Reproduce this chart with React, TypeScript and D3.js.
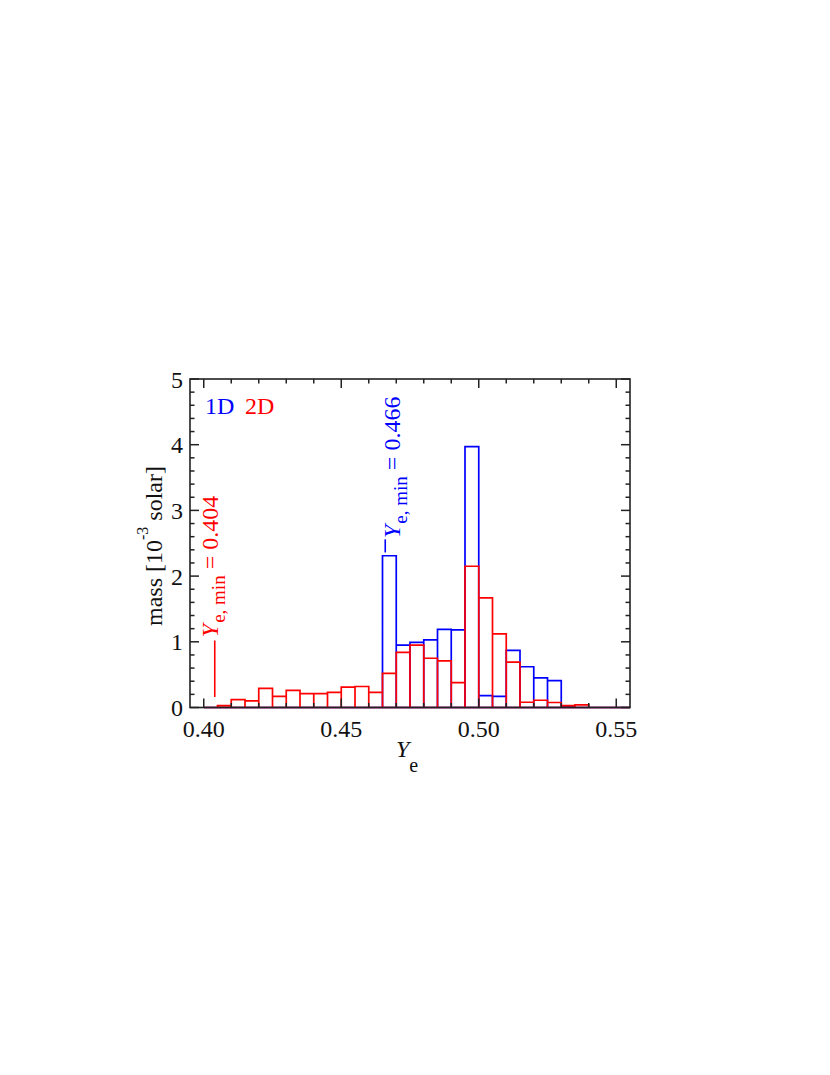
import React from "react";
import * as d3 from "d3";

// ---- data ----
const binStarts = [
  0.400, 0.405, 0.410, 0.415, 0.420, 0.425, 0.430, 0.435, 0.440, 0.445,
  0.450, 0.455, 0.460, 0.465, 0.470, 0.475, 0.480, 0.485, 0.490, 0.495,
  0.500, 0.505, 0.510, 0.515, 0.520, 0.525, 0.530, 0.535, 0.540, 0.545, 0.550,
];
const binWidth = 0.005;
const mass1D = [
  0, 0, 0, 0, 0, 0, 0, 0, 0, 0,
  0, 0, 0, 2.31, 0.95, 0.99, 1.03, 1.19, 1.18, 3.97,
  0.18, 0.17, 0.87, 0.62, 0.45, 0.41, 0.015, 0, 0, 0, 0,
];
const mass2D = [
  0, 0.03, 0.12, 0.10, 0.29, 0.17, 0.26, 0.21, 0.21, 0.23,
  0.31, 0.32, 0.23, 0.52, 0.84, 0.95, 0.75, 0.71, 0.38, 2.15,
  1.67, 1.12, 0.69, 0.08, 0.11, 0.076, 0.03, 0.04, 0, 0, 0,
];
const xMajorTicks = [0.40, 0.45, 0.50, 0.55];
const xTickLabels = ["0.40", "0.45", "0.50", "0.55"];
const xMinorTicks = [0.41, 0.42, 0.43, 0.44, 0.46, 0.47, 0.48, 0.49, 0.51, 0.52, 0.53, 0.54];
const yMajorTicks = [0, 1, 2, 3, 4, 5];
const yMinorTicks = [0.2, 0.4, 0.6, 0.8, 1.2, 1.4, 1.6, 1.8, 2.2, 2.4, 2.6, 2.8, 3.2, 3.4, 3.6, 3.8, 4.2, 4.4, 4.6, 4.8];
const annotations = [
  { x: 0.466, lineFrom: 2.36, lineTo: 2.56, textX: 0.4715, textY: 2.58, value: "0.466", color: "#0000ff" },
  { x: 0.404, lineFrom: 0.16, lineTo: 1.02, textX: 0.4052, textY: 1.07, value: "0.404", color: "#ff0000" },
];

const FONT = "'Liberation Serif', 'Times New Roman', serif";

export default function App() {
  const left = 190, right = 630, top = 379, bottom = 707.5;
  const x = d3.scaleLinear().domain([0.395, 0.555]).range([left, right]);
  const y = d3.scaleLinear().domain([0, 5]).range([bottom, top]);
  const axisColor = "#222";
  const majorLen = 9, minorLen = 4.5;

  const histPath = (vals: number[]) => {
    const p = d3.path();
    binStarts.forEach((b, i) => {
      const x0 = x(b), x1 = x(b + binWidth);
      const y0 = y(0), y1 = y(vals[i]);
      p.moveTo(x0, y0);
      p.lineTo(x0, y1);
      p.lineTo(x1, y1);
      p.lineTo(x1, y0);
    });
    p.moveTo(x(binStarts[0]), y(0));
    p.lineTo(x(binStarts[binStarts.length - 1] + binWidth), y(0));
    return p.toString();
  };

  return (
    <svg width={830} height={1075} style={{ position: "absolute", left: 0, top: 0, background: "#fff" }}
      fontFamily={FONT}>
      <rect x={0} y={0} width={830} height={1075} fill="#fff" />
      <path d={histPath(mass1D)} fill="none" stroke="#0000ff" strokeWidth={1.7} />
      <path d={histPath(mass2D)} fill="none" stroke="#ff0000" strokeWidth={1.7} />

      <rect x={left} y={top} width={right - left} height={bottom - top} fill="none" stroke={axisColor} strokeWidth={1.6} />
      {xMajorTicks.map((t) => (
        <g key={"xM" + t}>
          <line x1={x(t)} x2={x(t)} y1={bottom} y2={bottom - majorLen} stroke={axisColor} strokeWidth={1.5} />
          <line x1={x(t)} x2={x(t)} y1={top} y2={top + majorLen} stroke={axisColor} strokeWidth={1.5} />
        </g>
      ))}
      {xMinorTicks.map((t) => (
        <g key={"xm" + t}>
          <line x1={x(t)} x2={x(t)} y1={bottom} y2={bottom - minorLen} stroke={axisColor} strokeWidth={1.5} />
          <line x1={x(t)} x2={x(t)} y1={top} y2={top + minorLen} stroke={axisColor} strokeWidth={1.5} />
        </g>
      ))}
      {yMajorTicks.map((t) => (
        <g key={"yM" + t}>
          <line x1={left} x2={left + majorLen} y1={y(t)} y2={y(t)} stroke={axisColor} strokeWidth={1.5} />
          <line x1={right} x2={right - majorLen} y1={y(t)} y2={y(t)} stroke={axisColor} strokeWidth={1.5} />
        </g>
      ))}
      {yMinorTicks.map((t) => (
        <g key={"ym" + t}>
          <line x1={left} x2={left + minorLen} y1={y(t)} y2={y(t)} stroke={axisColor} strokeWidth={1.5} />
          <line x1={right} x2={right - minorLen} y1={y(t)} y2={y(t)} stroke={axisColor} strokeWidth={1.5} />
        </g>
      ))}

      {xMajorTicks.map((t, i) => (
        <text key={"xl" + t} x={x(t)} y={737} fontSize={24} textAnchor="middle" fill="#111">{xTickLabels[i]}</text>
      ))}
      {yMajorTicks.map((t) => (
        <text key={"yl" + t} x={183} y={y(t) + 8.5} fontSize={24} textAnchor="end" fill="#111">{t}</text>
      ))}

      <text x={396} y={757} fontSize={24} fill="#111">
        <tspan fontStyle="italic">Y</tspan>
        <tspan fontSize={20} dy={15} dx={0}>e</tspan>
      </text>
      <text transform={`translate(162, 546) rotate(-90)`} fontSize={24} textAnchor="middle" fill="#111">
        mass [10<tspan fontSize={16} dy={-14}>-3</tspan><tspan dy={14}> solar]</tspan>
      </text>

      <text x={205} y={414} fontSize={24} fill="#0000ff">1D</text>
      <text x={245} y={414} fontSize={24} fill="#ff0000">2D</text>

      {annotations.map((a) => (
        <g key={a.value}>
          <line x1={x(a.x)} x2={x(a.x)} y1={y(a.lineFrom)} y2={y(a.lineTo)} stroke={a.color} strokeWidth={1.6} />
          <text transform={`translate(${x(a.textX)}, ${y(a.textY)}) rotate(-90)`} fontSize={24} fill={a.color}>
            <tspan fontStyle="italic">Y</tspan>
            <tspan fontSize={19} dy={7} dx={1}>e, min</tspan>
            <tspan dy={-7}> = {a.value}</tspan>
          </text>
        </g>
      ))}
    </svg>
  );
}
